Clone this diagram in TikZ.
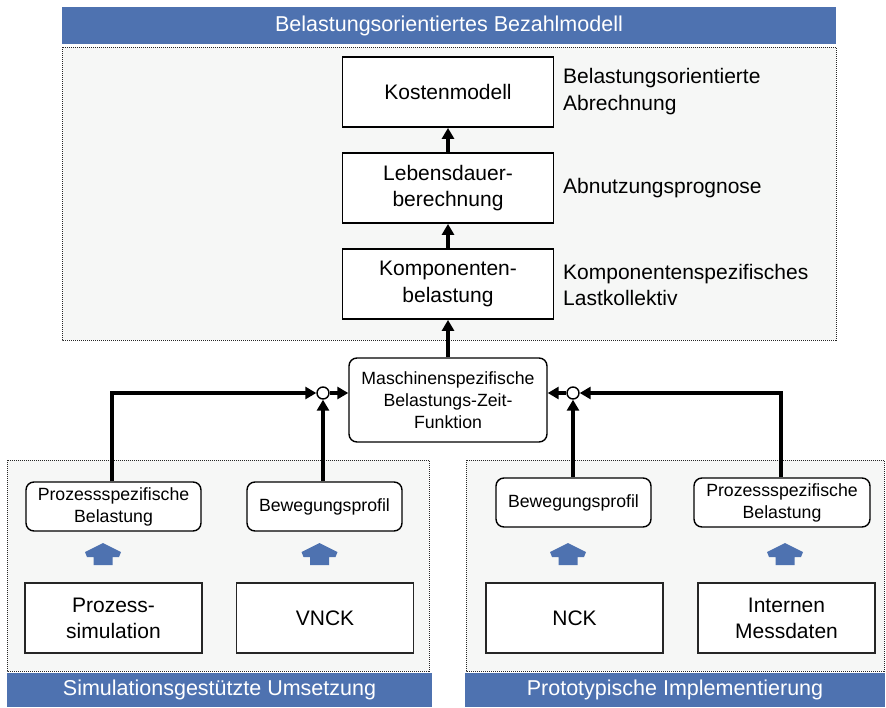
\documentclass[tikz,border=0pt]{standalone}
\usepackage{fontspec}
\setmainfont{Liberation Sans}
\usetikzlibrary{arrows.meta}
\definecolor{bandblue}{RGB}{78,114,176}
\definecolor{panelgray}{RGB}{246,247,246}
\tikzset{
  band/.style={fill=bandblue, text=white, inner sep=0pt, font=\fontsize{21.5}{24}\selectfont},
  panel/.style={draw=black!85, fill=panelgray, dash pattern=on 1pt off 1pt, line width=1pt},
  bigbox/.style={draw, line width=1.8pt, fill=white, minimum width=211pt, minimum height=70pt,
    align=center, font=\fontsize{21}{26.5}\selectfont, inner sep=0pt},
  sidelabel/.style={anchor=west, align=left, inner sep=0pt, font=\fontsize{21}{26.5}\selectfont},
  rbox/.style={draw, line width=1.4pt, rounded corners=8pt, fill=white, align=center,
    font=\fontsize{17.7}{22}\selectfont, inner sep=0pt},
  lowbox/.style={draw=black!85, line width=1.4pt, fill=white, align=center,
    font=\fontsize{21}{26}\selectfont, minimum width=177pt, minimum height=70pt, inner sep=0pt},
  junction/.style={circle, draw, line width=1.4pt, fill=white, minimum size=12pt, inner sep=0pt},
  conn/.style={line width=3.6pt, -{Triangle[length=11pt,width=12pt]}},
  blockup/.pic={\fill[bandblue] (0,0) -- (18,9) -- (16,14) -- (9.5,14) -- (9.5,22)
     -- (-9.5,22) -- (-9.5,14) -- (-16,14) -- (-18,9) -- cycle;}
}
\begin{document}
\begin{tikzpicture}[x=1pt,y=-1pt]
\useasboundingbox (0,0) rectangle (886,707);
% panels
\draw[panel] (62,47) rectangle (836,340);
\draw[panel] (7,460) rectangle (429,671);
\draw[panel] (466,460) rectangle (884,671);
% bands
\node[band, minimum width=774pt, minimum height=37pt] (hdr) at (449,25.5) {Belastungsorientiertes Bezahlmodell};
\node[band, minimum width=425pt, minimum height=34pt] (bl) at (219.5,690) {Simulationsgestützte Umsetzung};
\node[band, minimum width=420pt, minimum height=34pt] (br) at (675,690) {Prototypische Implementierung};
% top chain
\node[bigbox] (km) at (448,92) {Kostenmodell};
\node[bigbox] (lb) at (448,188) {Lebensdauer-\\berechnung};
\node[bigbox] (kb) at (448,284) {Komponenten-\\belastung};
\node[sidelabel] (l1) at (563,91.5) {Belastungsorientierte\\Abrechnung};
\node[sidelabel] (l2) at (563,188) {Abnutzungsprognose};
\node[sidelabel] (l3) at (563,285) {Komponentenspezifisches\\Lastkollektiv};
\draw[conn] (lb) -- (km);
\draw[conn] (kb) -- (lb);
% machine function
\node[rbox, minimum width=198pt, minimum height=84pt] (mz) at (448,400) {Maschinenspezifische\\Belastungs-Zeit-\\Funktion};
\draw[conn] (mz) -- (kb);
\node[junction] (c1) at (323,393) {};
\node[junction] (c2) at (573,393) {};
\draw[conn] (c1.east) -- (c1.east -| mz.west);
\draw[conn] (c2.west) -- (c2.west -| mz.east);
% lower rounded boxes
\node[rbox, minimum width=175pt, minimum height=49pt] (pl) at (113.5,506.5) {Prozessspezifische\\Belastung};
\node[rbox, minimum width=155pt, minimum height=49pt] (bwl) at (324.5,506.5) {Bewegungsprofil};
\node[rbox, minimum width=155pt, minimum height=49pt] (bwr) at (573.5,502.5) {Bewegungsprofil};
\node[rbox, minimum width=176pt, minimum height=49pt] (pr) at (782,502.5) {Prozessspezifische\\Belastung};
\draw[conn] (pl.north -| 112,0) |- (c1.west);
\draw[conn] (bwl.north -| c1.south) -- (c1.south);
\draw[conn] (bwr.north -| c2.south) -- (c2.south);
\draw[conn] (pr.north -| 781,0) |- (c2.east);
% block arrows
\pic at (103,543) {blockup};
\pic at (319.5,543) {blockup};
\pic at (568,543) {blockup};
\pic at (785,543) {blockup};
% bottom boxes
\node[lowbox] (ps) at (113.5,618) {Prozess-\\simulation};
\node[lowbox] (vn) at (325,618) {VNCK};
\node[lowbox] (nc) at (574.5,618) {NCK};
\node[lowbox] (im) at (786.5,618) {Internen\\Messdaten};
\end{tikzpicture}
\end{document}
